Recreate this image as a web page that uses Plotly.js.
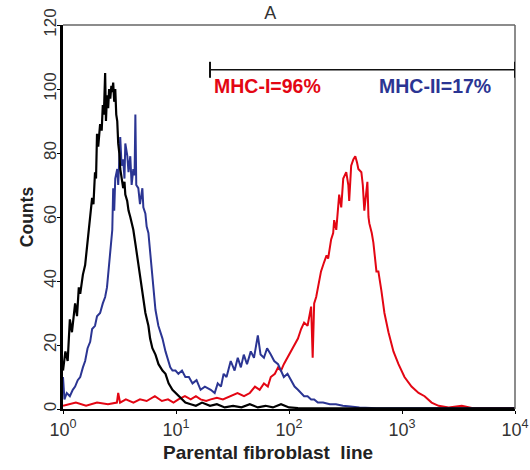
<!DOCTYPE html>
<html>
<head>
<meta charset="utf-8">
<script src="https://cdn.plot.ly/plotly-3.0.1.min.js"></script>
<style>html,body{margin:0;padding:0;background:#fff;}#chart{width:530px;height:470px;}</style>
</head>
<body>
<div id="chart"></div>
<script>
// Isotype control (black)
const controlX = [1,1.05,1.1,1.15,1.2,1.28,1.33,1.38,1.42,1.5,1.57,1.62,1.67,1.74,1.81,1.86,1.92,1.96,2.0,2.05,2.13,2.2,2.25,2.3,2.36,2.4,2.45,2.51,2.56,2.62,2.68,2.73,2.78,2.84,2.9,2.96,3.02,3.08,3.15,3.21,3.3,3.41,3.5,3.56,3.7,3.8,3.94,4.1,4.19,4.4,4.64,4.85,5.04,5.14,5.36,5.7,5.9,6.18,6.58,7.0,7.59,8.07,8.6,9.3,9.9,10.5,11.3,12.1,13.5,15,17,20,23,27,32,38,45,53,62,72,85,100,120,200,500,1000,10000];
const controlY = [12,18,15,28,24,33,29,38,36,42,45,50,55,60,66,64,74,72,86,82,89,87,95,92,105,90,98,94,100,97,101,99,102,96,100,92,90,83,80,75,72,69,71,67,65,62,60,57,56,51,45,41,37,35,30,26,22,19,17,14,12,11,8,6,5,4,3,2,1.5,1,2,1,1.5,0.5,1,0.5,1.5,0.5,1,0.5,1.5,0.5,0.3,0.2,0.2,0.2,0.2];
// MHC-II (blue)
const mhc2X = [1,1.03,1.08,1.15,1.22,1.28,1.35,1.42,1.5,1.57,1.65,1.74,1.81,1.92,2.0,2.13,2.25,2.36,2.45,2.51,2.57,2.62,2.68,2.73,2.78,2.84,2.9,3.02,3.08,3.21,3.3,3.41,3.5,3.56,3.71,3.8,3.94,4.05,4.19,4.3,4.37,4.45,4.64,4.8,5.04,5.14,5.36,5.5,5.7,5.9,6.18,6.4,6.58,6.98,7.3,7.59,8.07,8.4,8.9,9.31,9.9,10.5,11.3,12.1,13,14,15.2,16.5,18,20.3,22,23.4,25,26.4,28,30.5,33,35.2,37.5,39.8,42.5,45.9,49,53,56,60,64,69,74,80,85,90,97,104,112,120,128,136,146,157,167,180,200,230,260,300,350,420,600,1000,10000];
const mhc2Y = [10,3,5,4,6,7,9,10,13,15,19,21,25,26,29,30,33,35,38,42,45,47,52,56,69,62,72,75,70,85,76,78,72,83,79,74,79,70,75,73,92,70,69,64,69,63,61,57,55,49,40,35,31,26,24,22,18,16,13,12,12,11,12,10,10,8,9,6,7,6,5,8,7,11,10,15,12,16,13,17,14,18,16,23,17,16,19,17,15,14,12,10,11,9,7,6,5,4,4,3,3,2,2,1.5,1.5,1,0.8,0.5,0.2,0.2,0.2];
// MHC-I (red)
const mhc1X = [1,1.3,1.6,2.0,2.5,3.0,3.08,3.2,3.6,4.2,4.8,5.5,6.5,7.5,8.5,9.5,10.5,12,13.5,15,16.5,18.5,20.3,23,26,30,35,40,45,50,55,60,65,69,75,80,85,90,97,104,112,120,128,136,146,157,162,167,174,185,192,205,215,222,236,246,251,262,278,290,302,321,335,341,355,371,386,400,411,437,450,464,480,494,505,514,540,558,594,618,657,699,759,840,931,1052,1214,1402,1585,1828,2110,2588,3381,4150,10000];
const mhc1Y = [1,2,1,2,1.5,2,5,2,3,2,3,2.5,4,2.5,3,2,3,4,3,4,3,2.5,3,3.5,3,4,5,4,5,7,6,8,7,10,11,13,12,14,16,18,20,22,25,27,26,32,16,33,35,40,43,46,48,47,53,55,59,56,67,63,72,74,70,65,76,78,79,77,75,74,70,62,68,71,60,58,55,52,43,43,37,30,24,18,14,10,7,5,4,2,1,0.5,1,0.3,0.3];

const tickVals = [1,10,100,1000,10000];
const tickText = ['10<sup>0</sup>','10<sup>1</sup>','10<sup>2</sup>','10<sup>3</sup>','10<sup>4</sup>'];
const yTicks = [0,20,40,60,80,100,120];
const labelMHC1 = 'MHC-I=96%';
const labelMHC2 = 'MHC-II=17%';
const xTitle = 'Parental fibroblast&nbsp; line';
const bracketFrom = 20, bracketTo = 10000, bracketY = 106;

const font = 'Liberation Sans, Arial, sans-serif';
const traces = [
  {x: mhc1X, y: mhc1Y, mode: 'lines', line: {color: '#e30613', width: 2}, hoverinfo: 'skip'},
  {x: mhc2X, y: mhc2Y, mode: 'lines', line: {color: '#2b3593', width: 2}, hoverinfo: 'skip'},
  {x: controlX, y: controlY, mode: 'lines', line: {color: '#000000', width: 2.2}, hoverinfo: 'skip'}
];
const layout = {
  width: 530, height: 470,
  margin: {l: 63, r: 15, t: 25, b: 61},
  paper_bgcolor: '#fff', plot_bgcolor: '#fff',
  showlegend: false,
  font: {family: font, color: '#222'},
  title: {text: 'A', x: 0.51, xanchor: 'center', y: 0.972, yanchor: 'middle', font: {size: 18, color: '#333'}},
  xaxis: {
    type: 'log', range: [0, 4], tickvals: tickVals, ticktext: tickText,
    ticks: 'outside', ticklen: 3, tickcolor: '#000', showgrid: false, zeroline: false,
    showline: true, linecolor: '#000', linewidth: 2,
    tickfont: {size: 18, color: '#333'}
  },
  yaxis: {
    range: [0, 120], tickvals: yTicks, tickangle: -90,
    ticks: 'outside', ticklen: 3, tickcolor: '#000', showgrid: false, zeroline: false,
    showline: true, linecolor: '#000', linewidth: 3,
    ticklabelstandoff: -6,
    tickfont: {size: 17, color: '#333'},
    title: {text: '<b>Counts</b>', font: {size: 17.5, color: '#222'}, standoff: 4}
  },
  shapes: [
    {type: 'line', xref: 'paper', yref: 'paper', x0: 0, x1: 1, y0: 1, y1: 1, line: {color: '#666', width: 1.5}},
    {type: 'line', xref: 'paper', yref: 'paper', x0: 1, x1: 1, y0: 0, y1: 1, line: {color: '#666', width: 1.5}},
    {type: 'line', xref: 'x', yref: 'y', x0: bracketFrom, x1: bracketTo, y0: bracketY, y1: bracketY, line: {color: '#111', width: 1.5}},
    {type: 'line', xref: 'x', yref: 'y', x0: bracketFrom, x1: bracketFrom, y0: bracketY - 2.5, y1: bracketY + 2.5, line: {color: '#111', width: 2}},
    {type: 'line', xref: 'x', yref: 'y', x0: bracketTo, x1: bracketTo, y0: bracketY - 2.5, y1: bracketY + 2.5, line: {color: '#111', width: 2}}
  ],
  annotations: [
    {x: Math.log10(21), y: 101, xref: 'x', yref: 'y', text: '<b>' + labelMHC1 + '</b>', showarrow: false, xanchor: 'left', yanchor: 'middle', font: {size: 19.5, color: '#e30613'}},
    {x: Math.log10(600), y: 101, xref: 'x', yref: 'y', text: '<b>' + labelMHC2 + '</b>', showarrow: false, xanchor: 'left', yanchor: 'middle', font: {size: 19.5, color: '#2b3593'}},
    {x: 0.4535, y: -0.112, xref: 'paper', yref: 'paper', text: '<b>' + xTitle + '</b>', showarrow: false, xanchor: 'center', yanchor: 'middle', font: {size: 19, color: '#222'}}
  ]
};
Plotly.newPlot('chart', traces, layout, {staticPlot: true, displayModeBar: false});
</script>
</body>
</html>
